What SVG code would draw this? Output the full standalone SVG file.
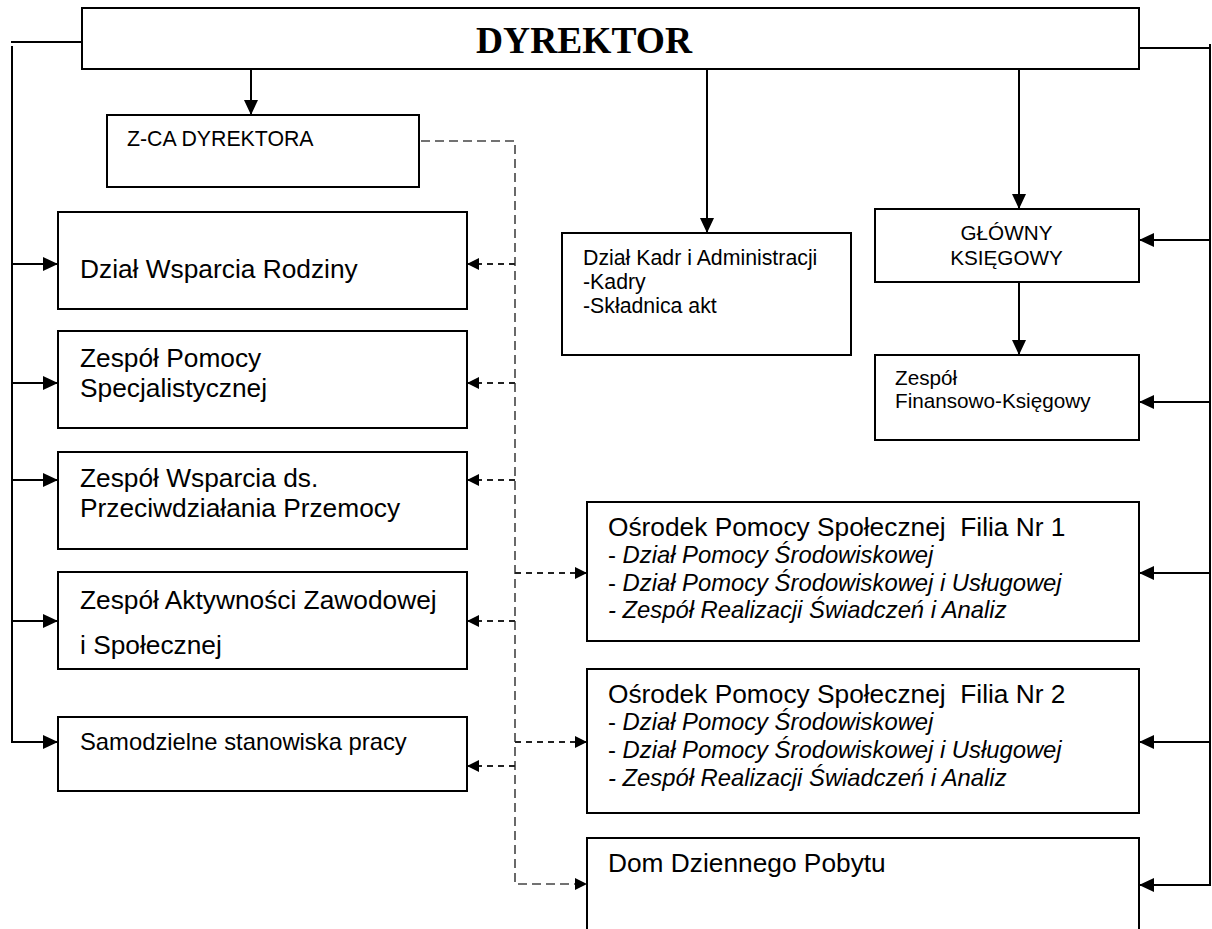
<svg xmlns="http://www.w3.org/2000/svg" width="1212" height="929" viewBox="0 0 1212 929">
<style>
.box{fill:#fff;stroke:#000;stroke-width:2}
.ln{fill:none;stroke:#000;stroke-width:2}
.dl{fill:none;stroke:#444;stroke-width:1.6;stroke-dasharray:9 5}
.ds{fill:none;stroke:#222;stroke-width:1.8;stroke-dasharray:6 5}
.t{font-family:"Liberation Sans",Arial,sans-serif;fill:#000}
.big{font-size:26.3px}
.mid{font-size:23.8px}
.sm{font-size:21.3px}
.xs{font-size:20.7px}
.it{font-style:italic}
.hd{font-family:"Liberation Serif","Times New Roman",serif;font-weight:bold;font-size:37.5px;fill:#000}
</style>
<defs>
<marker id="a" markerUnits="userSpaceOnUse" viewBox="0 0 15 14" refX="15" refY="7" markerWidth="15" markerHeight="14" orient="auto"><path d="M0,0 L15,7 L0,14 z" fill="#000"/></marker>
<marker id="d" markerUnits="userSpaceOnUse" viewBox="0 0 12 12" refX="12" refY="6" markerWidth="12" markerHeight="12" orient="auto"><path d="M0,0 L12,6 L0,12 z" fill="#000"/></marker>
</defs>

<g id="connectors">
<!-- left trunk -->
<path class="ln" d="M82,42 H11"/>
<path class="ln" d="M12,46 V742"/>
<path class="ln" d="M12,264 H58" marker-end="url(#a)"/>
<path class="ln" d="M12,383 H58" marker-end="url(#a)"/>
<path class="ln" d="M12,480 H58" marker-end="url(#a)"/>
<path class="ln" d="M12,621 H58" marker-end="url(#a)"/>
<path class="ln" d="M11,742 H58" marker-end="url(#a)"/>
<!-- right trunk -->
<path class="ln" d="M1139,48 H1211"/>
<path class="ln" d="M1210,44 V885"/>
<path class="ln" d="M1210,240 H1139" marker-end="url(#a)"/>
<path class="ln" d="M1210,402 H1139" marker-end="url(#a)"/>
<path class="ln" d="M1210,573 H1139" marker-end="url(#a)"/>
<path class="ln" d="M1210,742 H1139" marker-end="url(#a)"/>
<path class="ln" d="M1211,885 H1139" marker-end="url(#a)"/>
<!-- downward arrows -->
<path class="ln" d="M251,69 V115" marker-end="url(#a)"/>
<path class="ln" d="M707,69 V233" marker-end="url(#a)"/>
<path class="ln" d="M1019,69 V209" marker-end="url(#a)"/>
<path class="ln" d="M1019,282 V355" marker-end="url(#a)"/>
<!-- dashed coordination line -->
<path class="dl" d="M421,141 H515 V884 H580"/>
<path class="ds" d="M515,264 H467" marker-end="url(#d)"/>
<path class="ds" d="M515,383 H467" marker-end="url(#d)"/>
<path class="ds" d="M515,480 H467" marker-end="url(#d)"/>
<path class="ds" d="M515,621 H467" marker-end="url(#d)"/>
<path class="ds" d="M515,766 H467" marker-end="url(#d)"/>
<path class="ds" d="M515,573 H587" marker-end="url(#d)"/>
<path class="ds" d="M515,742 H587" marker-end="url(#d)"/>
<path class="ds" d="M575,884 H587" marker-end="url(#d)"/>
</g>

<g id="dyrektor">
<rect class="box" x="82" y="8" width="1057" height="61"/>
<text class="hd" x="476" y="53">DYREKTOR</text>
</g>

<g id="zca">
<rect class="box" x="107" y="115" width="312" height="72"/>
<text class="t sm" x="127" y="146">Z-CA DYREKTORA</text>
</g>

<g id="dzial-wsparcia-rodziny">
<rect class="box" x="58" y="212" width="409" height="97"/>
<text class="t big" x="80" y="278">Dział Wsparcia Rodziny</text>
</g>

<g id="zespol-pomocy-specjalistycznej">
<rect class="box" x="58" y="331" width="409" height="97"/>
<text class="t big" x="80" y="366.5">Zespół Pomocy</text>
<text class="t big" x="80" y="396.5">Specjalistycznej</text>
</g>

<g id="zespol-wsparcia">
<rect class="box" x="58" y="452" width="409" height="97"/>
<text class="t big" x="80" y="486.5">Zespół Wsparcia ds.</text>
<text class="t big" x="80" y="516.5">Przeciwdziałania Przemocy</text>
</g>

<g id="zespol-aktywnosci">
<rect class="box" x="58" y="572" width="409" height="97"/>
<text class="t big" x="80" y="608.5">Zespół Aktywności Zawodowej</text>
<text class="t big" x="80" y="653.5">i Społecznej</text>
</g>

<g id="samodzielne">
<rect class="box" x="58" y="717" width="409" height="74"/>
<text class="t mid" x="80" y="750">Samodzielne stanowiska pracy</text>
</g>

<g id="dzial-kadr">
<rect class="box" x="562" y="233" width="289" height="122"/>
<text class="t sm" x="583" y="265">Dział Kadr i Administracji</text>
<text class="t sm" x="583" y="289">-Kadry</text>
<text class="t sm" x="583" y="313">-Składnica akt</text>
</g>

<g id="glowny-ksiegowy">
<rect class="box" x="875" y="209" width="264" height="73"/>
<text class="t xs" x="1006.5" y="240" text-anchor="middle">GŁÓWNY</text>
<text class="t xs" x="1006.5" y="265" text-anchor="middle">KSIĘGOWY</text>
</g>

<g id="zespol-finansowo-ksiegowy">
<rect class="box" x="875" y="355" width="264" height="85"/>
<text class="t xs" x="895" y="385">Zespół</text>
<text class="t xs" x="895" y="408">Finansowo-Księgowy</text>
</g>

<g id="ops-filia-1">
<rect class="box" x="587" y="502" width="552" height="139"/>
<text class="t big" x="608" y="535.5" xml:space="preserve">Ośrodek Pomocy Społecznej  Filia Nr 1</text>
<text class="t mid" x="608" y="562.5">- <tspan class="it">Dział Pomocy Środowiskowej</tspan></text>
<text class="t mid" x="608" y="590.5">- <tspan class="it">Dział Pomocy Środowiskowej i Usługowej</tspan></text>
<text class="t mid it" x="608" y="618">- Zespół Realizacji Świadczeń i Analiz</text>
</g>

<g id="ops-filia-2">
<rect class="box" x="587" y="669" width="552" height="144"/>
<text class="t big" x="608" y="703" xml:space="preserve">Ośrodek Pomocy Społecznej  Filia Nr 2</text>
<text class="t mid" x="608" y="730">- <tspan class="it">Dział Pomocy Środowiskowej</tspan></text>
<text class="t mid" x="608" y="758">- <tspan class="it">Dział Pomocy Środowiskowej i Usługowej</tspan></text>
<text class="t mid it" x="608" y="785.5">- Zespół Realizacji Świadczeń i Analiz</text>
</g>

<g id="dom-dziennego-pobytu">
<path class="box" d="M587,935 V838 H1139 V935"/>
<text class="t big" x="608" y="872">Dom Dziennego Pobytu</text>
</g>
</svg>
